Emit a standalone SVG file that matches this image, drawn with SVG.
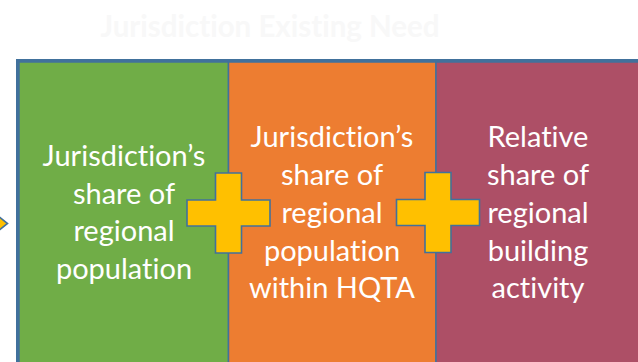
<svg xmlns="http://www.w3.org/2000/svg" width="638" height="362" viewBox="0 0 638 362">
<defs>
<style>
.lbl{font-family:Lato,"Open Sans","Liberation Sans",sans-serif;font-size:29px;fill:#ffffff;text-anchor:middle;font-variant-ligatures:none}
.panel{stroke:#41719c;stroke-width:1.5}
.plus{fill:#ffc000;stroke:#41719c;stroke-width:1.6}
.title{font-family:Lato,"Liberation Sans",Arial,sans-serif;font-weight:bold;font-size:29.5px;fill:#f8f8f8;text-anchor:middle;font-variant-ligatures:none}
</style>
<polygon id="plusShape" points="-13,-40 13,-40 13,-13 41.5,-13 41.5,13 13,13 13,40 -13,40 -13,13 -41.5,13 -41.5,-13 -13,-13"/>
</defs>
<rect width="638" height="362" fill="#ffffff"/>
<text class="title" x="270" y="37">Jurisdiction Existing Need</text>
<g id="prev-arrow">
<polygon class="plus" points="-2,216 7.5,223.5 -2,231"/>
</g>
<g id="frame">
<rect x="17.5" y="60.5" width="640" height="320" fill="none" stroke="#41719c" stroke-width="3"/>
</g>
<g id="panel-population">
<rect class="panel" x="19" y="62" width="209.5" height="320" fill="#70ad47"/>
<text class="lbl"><tspan x="124" y="166">Jurisdiction’s</tspan><tspan x="124" y="203.5">share of</tspan><tspan x="124" y="241">regional</tspan><tspan x="124" y="279">population</tspan></text>
</g>
<g id="panel-hqta">
<rect class="panel" x="228.5" y="62" width="207.5" height="320" fill="#ed7d31"/>
<text class="lbl"><tspan x="332" y="147">Jurisdiction’s</tspan><tspan x="332" y="185">share of</tspan><tspan x="332" y="223">regional</tspan><tspan x="332" y="260.5">population</tspan><tspan x="332" y="298">within HQTA</tspan></text>
</g>
<g id="panel-building">
<rect class="panel" x="436" y="62" width="210" height="320" fill="#ad4f66"/>
<text class="lbl"><tspan x="538" y="147">Relative</tspan><tspan x="538" y="185">share of</tspan><tspan x="538" y="223">regional</tspan><tspan x="538" y="260.5">building</tspan><tspan x="538" y="298">activity</tspan></text>
</g>
<g id="connectors">
<use href="#plusShape" class="plus" transform="translate(228.5,213)"/>
<use href="#plusShape" class="plus" transform="translate(438,212.5)"/>
</g>
</svg>
